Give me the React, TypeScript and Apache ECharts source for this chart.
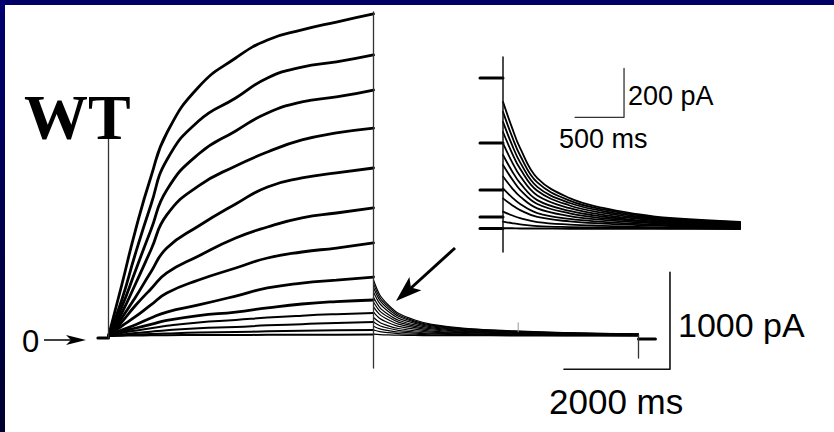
import React, { useEffect, useRef } from "react";
import * as echarts from "echarts";

// ---------- Main recording (ms, pA) ----------
const mainActTimes = [0, 250, 500, 800, 1100, 1700, 2400, 3000, 3650, 4300, 5000];
const mainActValues = [
  [0, 526, 1072, 1639, 2093, 2567, 2866, 3052, 3155, 3237, 3320],
  [0, 371, 835, 1351, 1815, 2217, 2454, 2660, 2773, 2825, 2897],
  [0, 299, 660, 1093, 1505, 1876, 2114, 2299, 2413, 2464, 2536],
  [0, 237, 526, 887, 1248, 1547, 1753, 1897, 2021, 2093, 2144],
  [0, 186, 392, 660, 907, 1134, 1361, 1536, 1629, 1681, 1732],
  [0, 144, 309, 485, 650, 825, 1010, 1124, 1217, 1268, 1320],
  [0, 103, 196, 320, 443, 577, 701, 804, 866, 907, 959],
  [0, 62, 113, 186, 247, 320, 412, 495, 546, 577, 608],
  [0, 45, 80, 120, 160, 210, 247, 290, 330, 355, 371],
  [0, 30, 55, 80, 105, 140, 165, 190, 210, 225, 237],
  [0, 15, 30, 45, 60, 80, 93, 110, 122, 135, 144],
  [0, 8, 14, 20, 26, 35, 41, 48, 53, 58, 62],
  [0, 3, 5, 7, 8, 10, 11, 12, 13, 14, 15],
];
const mainTailTimes = [5000, 5120, 5280, 5470, 5780, 6100, 6730, 7670, 8600, 10000];
const mainTailValues = [
  [577, 423, 320, 234, 165, 120, 79, 52, 35, 21],
  [540, 396, 300, 219, 154, 112, 74, 49, 33, 19],
  [500, 367, 278, 203, 143, 104, 69, 45, 31, 18],
  [454, 333, 252, 184, 130, 94, 62, 41, 28, 16],
  [400, 293, 222, 162, 114, 83, 55, 36, 24, 14],
  [351, 257, 195, 143, 100, 73, 48, 32, 21, 13],
  [300, 220, 167, 122, 86, 62, 41, 27, 18, 11],
  [247, 181, 137, 100, 71, 51, 34, 22, 15, 9],
  [190, 139, 105, 77, 54, 40, 26, 17, 12, 7],
  [144, 106, 80, 58, 41, 30, 20, 13, 9, 5],
  [100, 73, 56, 41, 29, 21, 14, 9, 6, 4],
  [62, 45, 34, 25, 18, 13, 8, 6, 4, 2],
  [20, 15, 11, 8, 6, 4, 3, 2, 1, 1],
];
const mainHoldTimes = [-200, 0];
const mainHoldValue = -20;
const mainEndTimes = [10000, 10320];
const mainEndValue = -30;
// vertical artifacts: [time, from, to]
const mainArtifacts = [
  [0, -20, 2040],
  [5000, -330, 3340],
  [10000, 10, -227],
];
const mainTick = [7730, 44, 137];
const mainScaleX = [8594, 10594]; // 2000 ms
const mainScaleY = [-343, 657]; // 1000 pA

// ---------- Inset (ms, pA) ----------
const insetPreTimes = [-235, 0];
const insetPreValues = [616, 351, 159, 49, 2];
const insetTimes = [0, 90, 175, 350, 680, 1020, 1370, 1700, 2420];
const insetValues = [
  [519, 416, 330, 208, 126, 86, 61, 45, 29],
  [478, 380, 300, 190, 116, 80, 57, 42, 27],
  [437, 345, 272, 172, 106, 73, 52, 38, 25],
  [396, 312, 246, 156, 96, 66, 47, 35, 23],
  [349, 275, 216, 137, 85, 58, 42, 31, 20],
  [302, 238, 187, 118, 74, 51, 36, 27, 18],
  [261, 205, 160, 102, 64, 44, 32, 24, 16],
  [214, 168, 132, 84, 53, 37, 27, 20, 13],
  [166, 130, 102, 65, 41, 29, 21, 16, 10],
  [125, 98, 77, 49, 31, 22, 16, 12, 8],
  [71, 56, 44, 28, 18, 13, 9, 7, 5],
  [30, 24, 19, 12, 8, 6, 4, 3, 2],
  [3, 3, 2, 2, 1, 1, 1, 1, 0],
];
const insetArtifact = [0, -94, 702];
const insetScaleX = [735, 1235]; // 500 ms
const insetScaleY = [456, 656]; // 200 pA

const pairs = (ts: number[], vs: number[]) => ts.map((t, i) => [t, vs[i]]);

function lineSeries(data: number[][], grid: number, width: number, color = "#000", smooth: number | boolean = false) {
  return {
    type: "line",
    data,
    xAxisIndex: grid,
    yAxisIndex: grid,
    symbol: "none",
    smooth,
    silent: true,
    clip: false,
    lineStyle: { width, color, join: "round", cap: "round" },
    z: 2,
  };
}

export default function App() {
  const ref = useRef<HTMLDivElement>(null);
  useEffect(() => {
    document.body.style.margin = "0";
    if (!ref.current) return;
    const chart = echarts.init(ref.current, undefined, { renderer: "svg" });
    const series: any[] = [];
    // main
    mainActValues.forEach((vs, k) => {
      series.push(lineSeries(pairs(mainActTimes, vs), 0, k < 9 ? 2.8 : 2, "#000", 0.5));
    });
    mainTailValues.forEach((vs) => {
      series.push(lineSeries(pairs(mainTailTimes, vs), 0, 1.2, "#000", 0.3));
    });
    series.push(lineSeries(mainHoldTimes.map((t) => [t, mainHoldValue]), 0, 3));
    series.push(lineSeries(mainEndTimes.map((t) => [t, mainEndValue]), 0, 3));
    mainArtifacts.forEach(([t, a, b]) => {
      series.push(lineSeries([[t, a], [t, b]], 0, 1.3, "#333"));
    });
    series.push(lineSeries([[mainTick[0], mainTick[1]], [mainTick[0], mainTick[2]]], 0, 1, "#999"));
    series.push(
      lineSeries(
        [
          [mainScaleX[0], mainScaleY[0]],
          [mainScaleX[1], mainScaleY[0]],
          [mainScaleX[1], mainScaleY[1]],
        ],
        0,
        1.6,
        "#111"
      )
    );
    // inset
    insetPreValues.forEach((v) => {
      series.push(lineSeries(insetPreTimes.map((t) => [t, v]), 1, 3));
    });
    insetValues.forEach((vs) => {
      series.push(lineSeries(pairs(insetTimes, vs), 1, 1.8, "#000", 0.4));
    });
    series.push(lineSeries([[insetArtifact[0], insetArtifact[1]], [insetArtifact[0], insetArtifact[2]]], 1, 1.5, "#111"));
    series.push(
      lineSeries(
        [
          [insetScaleX[0], insetScaleY[0]],
          [insetScaleX[1], insetScaleY[0]],
          [insetScaleX[1], insetScaleY[1]],
        ],
        1,
        1.3,
        "#333"
      )
    );

    const sans = "'Liberation Sans', Arial, sans-serif";
    const tip = [396, 301];
    const graphic: any[] = [
      { type: "rect", shape: { x: 0, y: 0, width: 834, height: 5 }, style: { fill: "#000066" }, z: 10 },
      {
        type: "rect",
        shape: { x: 0, y: 0, width: 5, height: 432 },
        style: {
          fill: new echarts.graphic.LinearGradient(0, 0, 0, 1, [
            { offset: 0, color: "#000070" },
            { offset: 1, color: "#000030" },
          ]),
        },
        z: 10,
      },
      {
        type: "text",
        style: { text: "WT", x: 24, y: 117, font: "bold 64px 'Liberation Serif', 'Times New Roman', serif", fill: "#000", align: "left", verticalAlign: "middle" },
        z: 10,
      },
      {
        type: "text",
        style: { text: "0", x: 22, y: 341.5, font: `31px ${sans}`, fill: "#000", align: "left", verticalAlign: "middle" },
        z: 10,
      },
      { type: "line", shape: { x1: 44, y1: 340, x2: 80, y2: 340 }, style: { stroke: "#000", lineWidth: 1.6 }, z: 10 },
      { type: "polygon", shape: { points: [[86, 340], [66, 335], [71, 340], [66, 345]] }, style: { fill: "#000" }, z: 10 },
      { type: "line", shape: { x1: 455, y1: 248, x2: 411, y2: 288 }, style: { stroke: "#000", lineWidth: 3 }, z: 10 },
      {
        type: "polygon",
        shape: { points: [tip, [421.4, 290.3], [410.9, 287.6], [409.4, 276.9]] },
        style: { fill: "#000" },
        z: 10,
      },
      {
        type: "text",
        style: { text: "1000 pA", x: 678, y: 324.5, font: `34px ${sans}`, fill: "#000", align: "left", verticalAlign: "middle" },
        z: 10,
      },
      {
        type: "text",
        style: { text: "2000 ms", x: 549, y: 401, font: `35px ${sans}`, fill: "#000", align: "left", verticalAlign: "middle" },
        z: 10,
      },
      {
        type: "text",
        style: { text: "200 pA", x: 628, y: 96, font: `27px ${sans}`, fill: "#000", align: "left", verticalAlign: "middle" },
        z: 10,
      },
      {
        type: "text",
        style: { text: "500 ms", x: 559, y: 139, font: `27px ${sans}`, fill: "#000", align: "left", verticalAlign: "middle" },
        z: 10,
      },
    ];

    chart.setOption({
      animation: false,
      backgroundColor: "#fff",
      grid: [
        { left: 82, top: 6.2, width: 609.5, height: 388 },
        { left: 473.6, top: 33, width: 274.4, height: 245 },
      ],
      xAxis: [
        { type: "value", min: -500, max: 11000, show: false, gridIndex: 0 },
        { type: "value", min: -300, max: 2500, show: false, gridIndex: 1 },
      ],
      yAxis: [
        { type: "value", min: -600, max: 3400, show: false, gridIndex: 0 },
        { type: "value", min: -200, max: 800, show: false, gridIndex: 1 },
      ],
      series,
      graphic,
    });
    return () => chart.dispose();
  }, []);
  return <div ref={ref} style={{ width: 834, height: 432, background: "#fff" }} />;
}
